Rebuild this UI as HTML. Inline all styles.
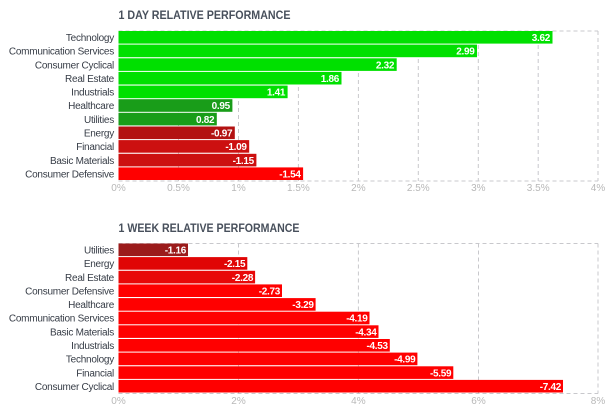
<!DOCTYPE html>
<html><head><meta charset="utf-8"><style>
html,body{margin:0;padding:0;background:#fff;width:615px;height:410px;overflow:hidden}
svg{display:block;font-family:"Liberation Sans",sans-serif}
.t{font-size:11.5px;font-weight:bold;fill:#48505c}
.l{font-size:10px;letter-spacing:-0.25px;fill:#353b45;text-anchor:end}
.v{font-size:10px;fill:#fff;font-weight:bold;text-anchor:end;letter-spacing:-0.3px}
.a{font-size:10px;fill:#b8b8b8;text-anchor:middle}
.g{stroke:#c8c8cc;stroke-width:1;stroke-dasharray:4,3;fill:none}
</style></head><body>
<svg width="615" height="410" viewBox="0 0 615 410">
<text class="t" x="118.5" y="19" textLength="172" lengthAdjust="spacingAndGlyphs">1 DAY RELATIVE PERFORMANCE</text>
<g class="g">
<line x1="118.5" y1="31" x2="598" y2="31"/>
<line x1="118.5" y1="181" x2="598" y2="181"/>
<line x1="178.5" y1="31" x2="178.5" y2="181"/>
<line x1="238.5" y1="31" x2="238.5" y2="181"/>
<line x1="298.4" y1="31" x2="298.4" y2="181"/>
<line x1="358.4" y1="31" x2="358.4" y2="181"/>
<line x1="418.3" y1="31" x2="418.3" y2="181"/>
<line x1="478.3" y1="31" x2="478.3" y2="181"/>
<line x1="538.2" y1="31" x2="538.2" y2="181"/>
<line x1="598" y1="31" x2="598" y2="181"/>
</g>
<g>
<rect x="118.5" y="31" width="434" height="12.6" fill="#00e000"/>
<rect x="118.5" y="44.6" width="358.5" height="12.6" fill="#00e000"/>
<rect x="118.5" y="58.3" width="278.2" height="12.6" fill="#00e000"/>
<rect x="118.5" y="71.9" width="223" height="12.6" fill="#00e000"/>
<rect x="118.5" y="85.6" width="169.1" height="12.6" fill="#00e000"/>
<rect x="118.5" y="99.2" width="113.9" height="12.6" fill="#199d19"/>
<rect x="118.5" y="112.8" width="98.3" height="12.6" fill="#199d19"/>
<rect x="118.5" y="126.5" width="116.3" height="12.6" fill="#b31212"/>
<rect x="118.5" y="140.1" width="130.7" height="12.6" fill="#cc1010"/>
<rect x="118.5" y="153.8" width="137.9" height="12.6" fill="#cc1010"/>
<rect x="118.5" y="167.4" width="184.6" height="12.6" fill="#ff0000"/>
</g>
<g class="l">
<text x="114" y="41">Technology</text>
<text x="114" y="54.6">Communication Services</text>
<text x="114" y="68.3">Consumer Cyclical</text>
<text x="114" y="81.9">Real Estate</text>
<text x="114" y="95.6">Industrials</text>
<text x="114" y="109.2">Healthcare</text>
<text x="114" y="122.8">Utilities</text>
<text x="114" y="136.5">Energy</text>
<text x="114" y="150.1">Financial</text>
<text x="114" y="163.8">Basic Materials</text>
<text x="114" y="177.4">Consumer Defensive</text>
</g>
<g class="v">
<text x="550" y="41">3.62</text>
<text x="474.5" y="54.6">2.99</text>
<text x="394.2" y="68.3">2.32</text>
<text x="339" y="81.9">1.86</text>
<text x="285.1" y="95.6">1.41</text>
<text x="229.9" y="109.2">0.95</text>
<text x="214.3" y="122.8">0.82</text>
<text x="232.3" y="136.5">-0.97</text>
<text x="246.7" y="150.1">-1.09</text>
<text x="253.9" y="163.8">-1.15</text>
<text x="300.6" y="177.4">-1.54</text>
</g>
<g class="a">
<text x="118.5" y="191">0%</text>
<text x="178.5" y="191">0.5%</text>
<text x="238.5" y="191">1%</text>
<text x="298.4" y="191">1.5%</text>
<text x="358.4" y="191">2%</text>
<text x="418.3" y="191">2.5%</text>
<text x="478.3" y="191">3%</text>
<text x="538.2" y="191">3.5%</text>
<text x="598" y="191">4%</text>
</g>

<text class="t" x="118.5" y="232" textLength="181" lengthAdjust="spacingAndGlyphs">1 WEEK RELATIVE PERFORMANCE</text>
<g class="g">
<line x1="118.5" y1="243.5" x2="598" y2="243.5"/>
<line x1="118.5" y1="393.5" x2="598" y2="393.5"/>
<line x1="238.5" y1="243.5" x2="238.5" y2="393.5"/>
<line x1="358.4" y1="243.5" x2="358.4" y2="393.5"/>
<line x1="478.5" y1="243.5" x2="478.5" y2="393.5"/>
<line x1="598" y1="243.5" x2="598" y2="393.5"/>
</g>
<g>
<rect x="118.5" y="243.5" width="69.5" height="12.6" fill="#9b1b1b"/>
<rect x="118.5" y="257.1" width="128.8" height="12.6" fill="#e00505"/>
<rect x="118.5" y="270.8" width="136.6" height="12.6" fill="#e80808"/>
<rect x="118.5" y="284.4" width="163.5" height="12.6" fill="#ff0000"/>
<rect x="118.5" y="298.1" width="197.1" height="12.6" fill="#ff0000"/>
<rect x="118.5" y="311.7" width="251" height="12.6" fill="#ff0000"/>
<rect x="118.5" y="325.3" width="260" height="12.6" fill="#ff0000"/>
<rect x="118.5" y="339" width="271.3" height="12.6" fill="#ff0000"/>
<rect x="118.5" y="352.6" width="298.9" height="12.6" fill="#ff0000"/>
<rect x="118.5" y="366.3" width="334.8" height="12.6" fill="#ff0000"/>
<rect x="118.5" y="379.9" width="444.5" height="12.6" fill="#ff0000"/>
</g>
<g class="l">
<text x="114" y="253.5">Utilities</text>
<text x="114" y="267.1">Energy</text>
<text x="114" y="280.8">Real Estate</text>
<text x="114" y="294.4">Consumer Defensive</text>
<text x="114" y="308.1">Healthcare</text>
<text x="114" y="321.7">Communication Services</text>
<text x="114" y="335.3">Basic Materials</text>
<text x="114" y="349">Industrials</text>
<text x="114" y="362.6">Technology</text>
<text x="114" y="376.3">Financial</text>
<text x="114" y="389.9">Consumer Cyclical</text>
</g>
<g class="v">
<text x="186" y="253.5">-1.16</text>
<text x="245.3" y="267.1">-2.15</text>
<text x="253.1" y="280.8">-2.28</text>
<text x="280" y="294.4">-2.73</text>
<text x="313.6" y="308.1">-3.29</text>
<text x="367.5" y="321.7">-4.19</text>
<text x="376.5" y="335.3">-4.34</text>
<text x="387.8" y="349">-4.53</text>
<text x="415.4" y="362.6">-4.99</text>
<text x="451.3" y="376.3">-5.59</text>
<text x="561" y="389.9">-7.42</text>
</g>
<g class="a">
<text x="118.5" y="404">0%</text>
<text x="238.5" y="404">2%</text>
<text x="358.4" y="404">4%</text>
<text x="478.5" y="404">6%</text>
<text x="598" y="404">8%</text>
</g>
</svg>
</body></html>
